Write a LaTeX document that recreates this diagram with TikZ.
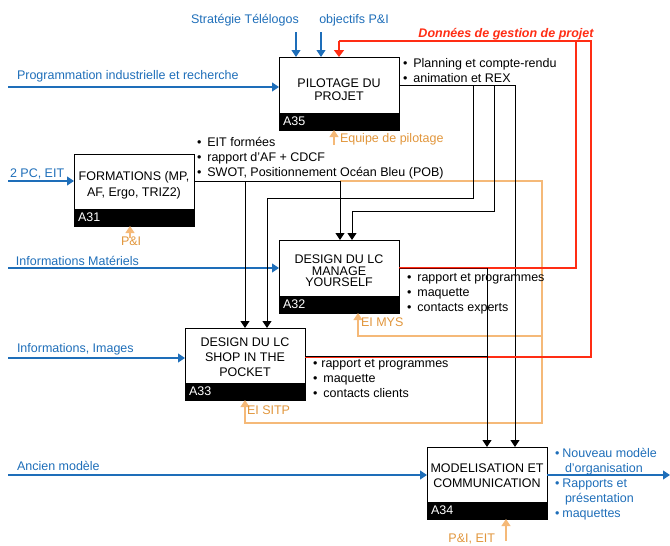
\documentclass[tikz,border=0pt]{standalone}
\usepackage{fontspec}
\setmainfont{Liberation Sans}
\usetikzlibrary{arrows.meta,calc}
\definecolor{cblue}{RGB}{30,110,185}
\definecolor{corange}{RGB}{225,150,60}
\definecolor{corline}{RGB}{245,185,120}
\definecolor{cred}{RGB}{255,45,20}
\begin{document}
\begin{tikzpicture}[x=1pt,y=-1pt,
  every node/.style={font=\fontsize{12.5}{15}\selectfont, inner sep=0pt, outer sep=0pt},
  box/.style={draw=black, line width=0.9pt, fill=white, inner sep=0pt, outer sep=0pt},
  band/.style={fill=black, draw=black, line width=0.9pt, text=white, anchor=south west, minimum height=17pt, inner xsep=4pt, align=left},
  boxtxt/.style={align=center},
  blist/.style={align=left, anchor=north west},
  inlbl/.style={text=cblue, anchor=west},
  ctlbl/.style={text=corange, anchor=west},
  tip/.style={-{Triangle[width=9pt,length=7pt]}},
  bluearr/.style={tip, draw=cblue, line width=1.2pt},
  blackarr/.style={tip, draw=black, line width=0.9pt},
  blackln/.style={draw=black, line width=0.9pt},
  orarr/.style={-{Triangle[width=9pt,length=7pt]}, draw=corline, line width=1.2pt},
  redln/.style={draw=cred, line width=1.6pt},
]
\useasboundingbox (0,0) rectangle (670,546);

% ---------- boxes ----------
\node[box, minimum width=120pt, minimum height=73pt] (a35) at (339,93.5) {};
\node[band, text width=112pt] (a35b) at (a35.south west) {A35};
\node[boxtxt, font=\fontsize{12.5}{13}\selectfont] (t35) at (339,90) {PILOTAGE DU\\PROJET};

\node[box, minimum width=120pt, minimum height=72pt] (a31) at (134,190) {};
\node[band, text width=112pt] (a31b) at (a31.south west) {A31};
\node[boxtxt, font=\fontsize{12.5}{16}\selectfont] (t31) at (134,185) {FORMATIONS (MP,\\AF, Ergo, TRIZ2)};

\node[box, minimum width=120pt, minimum height=73pt] (a32) at (339,276.5) {};
\node[band, text width=112pt] (a32b) at (a32.south west) {A32};
\node[boxtxt, font=\fontsize{12.5}{11.5}\selectfont] (t32) at (339,271) {DESIGN DU LC\\MANAGE\\YOURSELF};

\node[box, minimum width=120pt, minimum height=72pt] (a33) at (245,364) {};
\node[band, text width=112pt] (a33b) at (a33.south west) {A33};
\node[boxtxt, font=\fontsize{12.5}{15}\selectfont] (t33) at (245,357) {DESIGN DU LC\\SHOP IN THE\\POCKET};

\node[box, minimum width=120pt, minimum height=72pt] (a34) at (487,483) {};
\node[band, text width=112pt] (a34b) at (a34.south west) {A34};
\node[boxtxt, font=\fontsize{12.5}{15}\selectfont] (t34) at (487,476) {MODELISATION ET\\COMMUNICATION};

% ---------- blue inputs ----------
\coordinate (s1) at (296,32);
\coordinate (s2) at (321,32);
\node[text=cblue] (ls1) at (245,20) {Stratégie Télélogos};
\node[text=cblue] (ls2) at (354,20) {objectifs P\&I};
\draw[bluearr] (s1) -- (s1 |- a35.north);
\draw[bluearr] (s2) -- (s2 |- a35.north);

\coordinate (i35) at (8,87);
\node[inlbl] (li35) at (17,76) {Programmation industrielle et recherche};
\draw[bluearr] (i35) -- (i35 -| a35.west);

\coordinate (i31) at (8,181);
\node[inlbl] (li31) at (10,174) {2 PC, EIT};
\draw[bluearr] (i31) -- (i31 -| a31.west);

\coordinate (i32) at (8,268);
\node[inlbl] (li32) at (16,261) {Informations Matériels};
\draw[bluearr] (i32) -- (i32 -| a32.west);

\coordinate (i33) at (8,358);
\node[inlbl] (li33) at (17,349) {Informations, Images};
\draw[bluearr] (i33) -- (i33 -| a33.west);

\coordinate (i34) at (8,475);
\node[inlbl] (li34) at (17,466) {Ancien modèle};
\draw[bluearr] (i34) -- (i34 -| a34.west);

\coordinate (o34) at (670,475);
\draw[bluearr] (o34 -| a34.east) -- (o34);
\node[blist, text=cblue] (lo34) at (555,448) {•\hspace{3pt}Nouveau modèle\\\hspace*{10pt}d’organisation\\•\hspace{3pt}Rapports et\\\hspace*{10pt}présentation\\•\hspace{3pt}maquettes};

% ---------- mechanisms (orange) ----------
\coordinate (m35) at (334,145);
\draw[orarr] (m35) -- (m35 |- a35.south);
\node[ctlbl] (lm35) at (340,139) {Equipe de pilotage};

\coordinate (m31) at (130,238);
\draw[orarr] (m31) -- (m31 |- a31.south);
\node[ctlbl] (lm31) at (121,241) {P\&I};

\coordinate (m34) at (506,541);
\draw[orarr] (m34) -- (m34 |- a34.south);
\node[text=corange, anchor=east] (lm34) at (495,539) {P\&I, EIT};

% ---------- A31 outputs ----------
\node[blist] (lo31) at (197,137) {•\hspace{6pt}EIT formées\\•\hspace{6pt}rapport d’AF + CDCF\\•\hspace{6pt}SWOT, Positionnement Océan Bleu (POB)};
\coordinate (j31a) at (245,181);
\coordinate (j31b) at (340,181);
\coordinate (j31c) at (542,181);
\coordinate (j31d) at (542,336);
\coordinate (j31e) at (358,336);
\coordinate (j31f) at (542,423);
\coordinate (j31g) at (245,423);
\draw[orarr] (j31b) -- (j31c) -- (j31d) -- (j31e) -- (j31e |- a32.south);
\draw[orarr] (j31d) -- (j31f) -- (j31g) -- (j31g |- a33.south);
\node[ctlbl] (lm32) at (361,322) {EI MYS};
\node[ctlbl] (lm33) at (247,410) {EI SITP};
\draw[blackln] (a31.east |- j31a) -- (j31b);
\draw[blackarr] (j31a) -- (j31a |- a33.north);
\draw[blackarr] (j31b) -- (j31b |- a32.north);

% ---------- A35 outputs ----------
\node[blist] (lo35) at (403,58) {•\hspace{6pt}Planning et compte-rendu\\•\hspace{6pt}animation et REX};
\coordinate (j35a) at (473,85);
\coordinate (j35b) at (494,85);
\coordinate (j35c) at (515,85);
\coordinate (j35d) at (473,198);
\coordinate (j35e) at (267,198);
\coordinate (j35f) at (494,211);
\coordinate (j35g) at (352,211);
\draw[blackln] (a35.east |- j35a) -- (j35c);
\draw[blackarr] (j35c) -- (j35c |- a34.north);
\draw[blackarr] (j35a) -- (j35d) -- (j35e) -- (j35e |- a33.north);
\draw[blackarr] (j35b) -- (j35f) -- (j35g) -- (j35g |- a32.north);

% ---------- red feedback ----------
\node[text=cred, font=\fontsize{12.5}{15}\selectfont\bfseries\itshape] (lred) at (506,34) {Données de gestion de projet};
\coordinate (r1) at (576,268);
\coordinate (r2) at (576,41);
\coordinate (r3) at (339,41);
\coordinate (r4) at (591,357);
\coordinate (r5) at (591,41);
\draw[redln] (a32.east |- r1) -- (r1) -- (r2);
\draw[redln] (a33.east |- r4) -- (r4) -- (r5) -- (r3);
\draw[redln, -{Triangle[width=10pt,length=7pt]}] (r3) -- (r3 |- a35.north);

% ---------- A32 / A33 outputs ----------
\node[blist] (lo32) at (407,273) {•\hspace{6pt}rapport et programmes\\•\hspace{6pt}maquette\\•\hspace{6pt}contacts experts};
\node[blist] (lo33) at (313,359) {•\hspace{4pt}rapport et programmes\\•\hspace{6pt}maquette\\•\hspace{6pt}contacts clients};
\coordinate (k1) at (487,268);
\coordinate (k2) at (487,356);
\draw[blackln, draw=red!45!black] (a32.east |- k1) -- (k1);
\draw[blackarr] (k1) -- (k1 |- a34.north);
\draw[blackln] (a33.east |- k2) -- (k2);
\end{tikzpicture}
\end{document}
